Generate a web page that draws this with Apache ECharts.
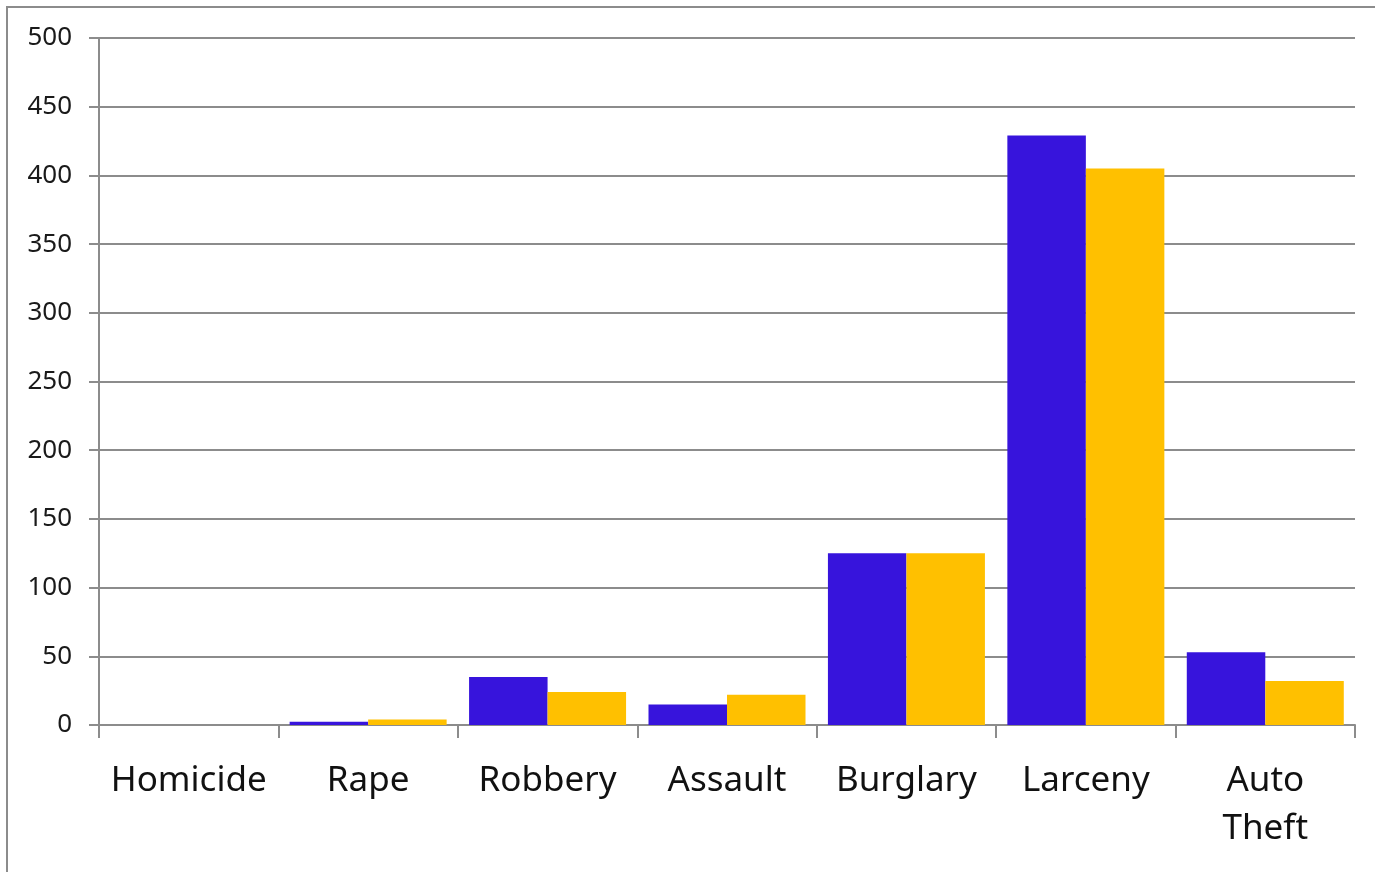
<!DOCTYPE html>
<html>
<head>
<meta charset="utf-8">
<script src="https://cdn.jsdelivr.net/npm/echarts@6/dist/echarts.min.js"></script>
<style>
html,body{margin:0;padding:0;background:#fff;}
#chart{width:1375px;height:872px;}
</style>
</head>
<body>
<div id="chart"></div>
<script>
const categories = ['Homicide', 'Rape', 'Robbery', 'Assault', 'Burglary', 'Larceny', 'Auto Theft'];
const series1 = [0, 2.4, 35, 15, 125, 429, 53];
const series2 = [0, 4, 24, 22, 125, 405, 32];
const yTicks = { min: 0, max: 500, interval: 50 };

const chart = echarts.init(document.getElementById('chart'), null, { renderer: 'canvas' });
const axisGray = '#8c8c8c';
chart.setOption({
  animation: false,
  backgroundColor: '#ffffff',
  graphic: [{
    type: 'rect',
    shape: { x: 7, y: 7, width: 1400, height: 900 },
    style: { fill: 'none', stroke: '#8c8c8c', lineWidth: 2 },
    silent: true
  }],
  grid: { left: 99, right: 20, top: 38, bottom: 147, containLabel: false },
  xAxis: {
    type: 'category',
    data: categories,
    axisLine: { lineStyle: { color: axisGray, width: 2 } },
    axisTick: { show: true, length: 13, lineStyle: { color: axisGray, width: 2 } },
    axisLabel: {
      color: '#111',
      fontFamily: 'Noto Sans',
      fontSize: 35,
      lineHeight: 48,
      margin: 32,
      interval: 0,
      formatter: v => v.replace(' ', '\n')
    }
  },
  yAxis: {
    type: 'value',
    min: yTicks.min,
    max: yTicks.max,
    interval: yTicks.interval,
    axisLine: { show: true, lineStyle: { color: axisGray, width: 2 } },
    axisTick: { show: true, length: 10, lineStyle: { color: axisGray, width: 2 } },
    splitLine: { show: true, lineStyle: { color: axisGray, width: 2 } },
    axisLabel: {
      color: '#1a1a1a',
      fontFamily: 'Noto Sans',
      fontSize: 26,
      margin: 27
    }
  },
  series: [
    {
      name: 'Series 1',
      type: 'bar',
      data: series1,
      barGap: '0%',
      barCategoryGap: '12.5%',
      itemStyle: { color: '#3714DC' }
    },
    {
      name: 'Series 2',
      type: 'bar',
      data: series2,
      barGap: '0%',
      barCategoryGap: '12.5%',
      itemStyle: { color: '#FFC000' }
    }
  ]
});
</script>
</body>
</html>
